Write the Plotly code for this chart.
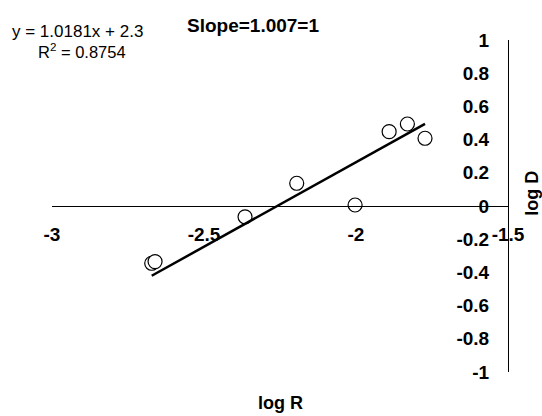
import plotly.graph_objects as go

# Measured points: log R vs log D
log_r = [-2.672, -2.661, -2.365, -2.195, -2.003, -1.891, -1.831, -1.773]
log_d = [-0.345, -0.335, -0.065, 0.137, 0.006, 0.448, 0.494, 0.408]

# Linear trendline coefficients
slope = 1.0181
intercept = 2.3
r_squared = 0.8754

x_ticks = [-3, -2.5, -2, -1.5]
x_tick_text = ["-3", "-2.5", "-2", "-1.5"]
y_ticks = [1, 0.8, 0.6, 0.4, 0.2, 0, -0.2, -0.4, -0.6, -0.8, -1]
y_tick_text = ["1", "0.8", "0.6", "0.4", "0.2", "0", "-0.2", "-0.4", "-0.6", "-0.8", "-1"]

FONT = "Liberation Sans, Arial, sans-serif"
TICK_SIZE = 19

x_lo, x_hi = min(log_r), max(log_r)
trend_x = [x_lo, x_hi]
trend_y = [slope * v + intercept for v in trend_x]

fig = go.Figure()
fig.add_trace(go.Scatter(
    x=log_r, y=log_d, mode="markers",
    marker=dict(symbol="circle", size=14, color="white",
                line=dict(color="black", width=1.2)),
    showlegend=False,
))
fig.add_trace(go.Scatter(
    x=trend_x, y=trend_y, mode="lines",
    line=dict(color="black", width=2.5),
    showlegend=False,
))

fig.update_layout(
    width=542, height=416,
    margin=dict(l=52, r=34, t=40, b=44),
    paper_bgcolor="white", plot_bgcolor="white",
    font=dict(family=FONT, color="black"),
    xaxis=dict(
        range=[-3, -1.5], anchor="free", position=0.5,
        showline=True, linecolor="black", linewidth=1,
        showgrid=False, zeroline=False,
        tickvals=x_ticks, ticktext=x_tick_text, ticks="",
        ticklabelstandoff=11,
        tickfont=dict(family=FONT, size=TICK_SIZE, color="black", weight="bold"),
    ),
    yaxis=dict(
        range=[-1, 1], anchor="free", position=1, side="left",
        showline=True, linecolor="black", linewidth=1,
        showgrid=False, zeroline=False,
        tickvals=y_ticks, ticktext=y_tick_text, ticks="",
        ticklabelstandoff=15,
        tickfont=dict(family=FONT, size=TICK_SIZE, color="black", weight="bold"),
    ),
    annotations=[
        dict(text=f"y = {slope}x + {intercept}", xref="paper", yref="paper",
             x=-0.092, y=1.027, xanchor="left", yanchor="middle",
             showarrow=False, font=dict(family=FONT, size=17)),
        dict(text=f"R<sup>2</sup> = {r_squared}", xref="paper", yref="paper",
             x=-0.035, y=0.967, xanchor="left", yanchor="middle",
             showarrow=False, font=dict(family=FONT, size=16.5)),
        dict(text="<b>Slope=1.007=1</b>", xref="paper", yref="paper",
             x=0.2917, y=1.045, xanchor="left", yanchor="middle",
             showarrow=False, font=dict(family=FONT, size=19)),
        dict(text="<b>log R</b>", xref="paper", yref="paper",
             x=0.5, y=-0.093, xanchor="center", yanchor="middle",
             showarrow=False, font=dict(family=FONT, size=18)),
        dict(text="<b>log D</b>", xref="paper", yref="paper",
             x=1.052, y=0.539, xanchor="center", yanchor="middle",
             textangle=-90, showarrow=False, font=dict(family=FONT, size=18)),
    ],
)

fig.write_html("out.html")
